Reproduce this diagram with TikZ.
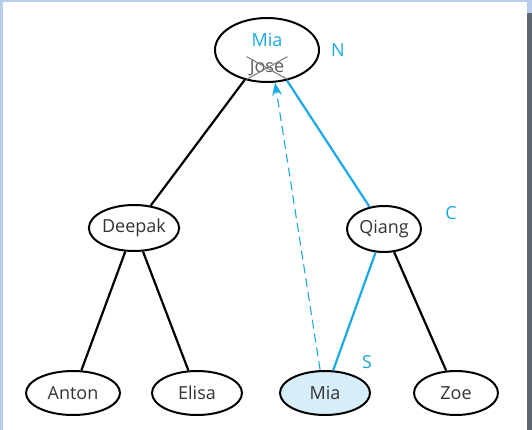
\documentclass[tikz,border=0pt]{standalone}
\usepackage{fontspec}
\setmainfont{Open Sans}
\usetikzlibrary{shapes.geometric,arrows.meta}
\definecolor{miablue}{HTML}{1BA9E5}
\definecolor{miafill}{HTML}{D6EEF9}
\definecolor{ink}{HTML}{333333}
\definecolor{edgeblue}{HTML}{B7CDEB}
\definecolor{edgegray}{HTML}{5F6773}
\begin{document}
\begin{tikzpicture}
  [x=1pt,y=-1pt,every node/.style={font=\fontsize{18}{21}\selectfont,text=ink},
   person/.style={ellipse,draw=black,line width=2pt,fill=white,inner sep=0pt},
   tag/.style={text=miablue}]
  \useasboundingbox (0,0) rectangle (532,430);
  \fill[edgeblue] (0,0) rectangle (3,430);
  \fill[edgeblue] (0,0) rectangle (532,2);
  \fill[edgegray] (527,0) rectangle (532,430);
  \fill[edgeblue] (527,0) rectangle (532,13);

  \node[person,minimum width=104pt,minimum height=64pt] (root) at (267,50) {};
  \node[person,minimum width=90pt,minimum height=46pt] (deepak) at (134,228) {Deepak};
  \node[person,minimum width=74pt,minimum height=46pt] (qiang) at (384,229) {Qiang};
  \node[person,minimum width=94pt,minimum height=44pt] (anton) at (73,393) {Anton};
  \node[person,minimum width=90pt,minimum height=44pt] (elisa) at (197,393) {Elisa};
  \node[person,minimum width=90pt,minimum height=44pt,fill=miafill] (mia) at (325,393) {Mia};
  \node[person,minimum width=84pt,minimum height=44pt] (zoe) at (456,393) {Zoe};

  \node[tag] (newname) at (267,40) {Mia};
  \node[text=ink!80,inner sep=3pt] (oldname) at (267,68) {Jose};
  \draw[gray,line width=1.1pt] (oldname.north west) -- (oldname.south east);
  \draw[gray,line width=1.1pt] (oldname.south west) -- (oldname.north east);

  \node[tag] (n) at (338,50) {N};
  \node[tag] (c) at (451,213) {C};
  \node[tag] (s) at (367,362) {S};

  \foreach \from/\to in {root/deepak,deepak/anton,deepak/elisa,qiang/zoe}
    \draw[line width=2.2pt] (\from) -- (\to);
  \foreach \from/\to in {root/qiang,qiang/mia}
    \draw[miablue,line width=2.2pt] (\from) -- (\to);

  \draw[miablue,line width=1.1pt,dash pattern=on 9pt off 5pt,-{Stealth[length=13pt,width=10pt]}]
    (mia.102) -- (root.-76);
\end{tikzpicture}
\end{document}
